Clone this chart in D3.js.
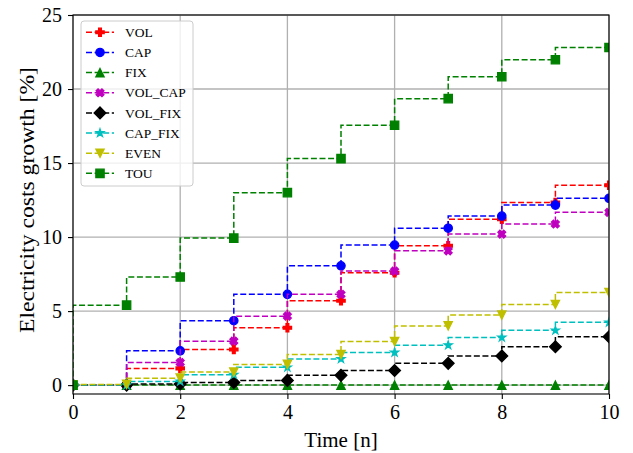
<!DOCTYPE html>
<html>
<head>
<meta charset="utf-8">
<script src="https://cdn.jsdelivr.net/npm/d3@7"></script>
<style>
  body { margin: 0; background: white; }
  text { font-family: "Liberation Serif", "Times New Roman", serif; fill: black; }
</style>
</head>
<body>
<div id="dataviz"></div>
<script>
"use strict"

// data
const times = [0, 1, 2, 3, 4, 5, 6, 7, 8, 9, 10];
const VOL      = [0, 0, 1.13, 2.41, 3.87, 5.7, 7.59, 9.41, 11.2, 12.34, 13.5];
const CAP      = [0, 0, 2.32, 4.35, 6.13, 8.06, 9.46, 10.6, 11.42, 12.16, 12.62];
const FIX      = [0, 0, 0, 0, 0, 0, 0, 0, 0, 0, 0];
const VOL_CAP  = [0, 0, 1.53, 2.97, 4.66, 6.13, 7.7, 9.07, 10.2, 10.88, 11.67];
const VOL_FIX  = [0, 0, 0.08, 0.18, 0.32, 0.66, 0.99, 1.47, 1.97, 2.59, 3.27];
const CAP_FIX  = [0, 0, 0.25, 0.7, 1.2, 1.77, 2.2, 2.7, 3.22, 3.7, 4.24];
const EVEN     = [0, 0.05, 0.47, 0.88, 1.4, 2.07, 2.95, 4.0, 4.73, 5.45, 6.26];
const TOU      = [0, 5.4, 7.3, 9.93, 13.0, 15.3, 17.55, 19.35, 20.83, 21.98, 22.8];

const seriesNames = ["VOL", "CAP", "FIX", "VOL_CAP", "VOL_FIX", "CAP_FIX", "EVEN", "TOU"];
const seriesValues = [VOL, CAP, FIX, VOL_CAP, VOL_FIX, CAP_FIX, EVEN, TOU];
const seriesColors = ["#ff0000", "#0000ff", "#008000", "#bf00bf", "#000000", "#00bfbf", "#bfbf00", "#008000"];
const seriesMarkers = ["P", "o", "^", "X", "D", "*", "v", "s"];

const xTicks = [0, 2, 4, 6, 8, 10];
const yTicks = [0, 5, 10, 15, 20, 25];

let W = 633, H = 453;
let plot = {left: 73, right: 609, top: 15, bottom: 394};

let svg = d3.select("#dataviz")
            .append("svg")
            .attr("width", W)
            .attr("height", H);

let x = d3.scaleLinear().domain([0, 10]).range([plot.left, plot.right]);
let y = d3.scaleLinear().domain([-0.6, 25]).range([plot.bottom, plot.top]);

svg.append("clipPath")
   .attr("id", "plotClip")
   .append("rect")
   .attr("x", plot.left)
   .attr("y", plot.top)
   .attr("width", plot.right - plot.left)
   .attr("height", plot.bottom - plot.top);

// grid
let grid = svg.append("g");
grid.selectAll(".gx").data(xTicks).enter()
    .append("line")
    .attr("x1", function(d) { return x(d) })
    .attr("x2", function(d) { return x(d) })
    .attr("y1", plot.top)
    .attr("y2", plot.bottom)
    .style("stroke", "#b0b0b0")
    .style("stroke-width", 1.3);
grid.selectAll(".gy").data(yTicks).enter()
    .append("line")
    .attr("y1", function(d) { return y(d) })
    .attr("y2", function(d) { return y(d) })
    .attr("x1", plot.left)
    .attr("x2", plot.right)
    .style("stroke", "#b0b0b0")
    .style("stroke-width", 1.3);

function markerPath(type, ms) {
  let h = ms / 2;
  let p = d3.path();
  if (type == "o") {
    p.arc(0, 0, h, 0, 2 * Math.PI);
    return p.toString();
  }
  let pts;
  if (type == "s") {
    pts = [[-h, -h], [h, -h], [h, h], [-h, h]];
  } else if (type == "D") {
    let r = ms * 0.707;
    pts = [[0, -r], [r, 0], [0, r], [-r, 0]];
  } else if (type == "^") {
    pts = [[0, -h], [h, h], [-h, h]];
  } else if (type == "v") {
    pts = [[0, h], [h, -h], [-h, -h]];
  } else if (type == "P" || type == "X") {
    let raw = [[-1,-3],[1,-3],[1,-1],[3,-1],[3,1],[1,1],[1,3],[-1,3],[-1,1],[-3,1],[-3,-1],[-1,-1]];
    let a = type == "X" ? Math.PI / 4 : 0;
    pts = raw.map(function(q) {
      let px = q[0] * ms / 6, py = q[1] * ms / 6;
      return [px * Math.cos(a) - py * Math.sin(a), px * Math.sin(a) + py * Math.cos(a)];
    });
  } else if (type == "*") {
    pts = [];
    for (let i = 0; i < 10; i++) {
      let r = i % 2 == 0 ? h : h * 0.381966;
      let ang = -Math.PI / 2 + i * Math.PI / 5;
      pts.push([r * Math.cos(ang), r * Math.sin(ang)]);
    }
  }
  p.moveTo(pts[0][0], pts[0][1]);
  for (let i = 1; i < pts.length; i++) p.lineTo(pts[i][0], pts[i][1]);
  p.closePath();
  return p.toString();
}

const ms = 8.3;

let stepLine = d3.line()
                 .x(function(d) { return x(d[0]) })
                 .y(function(d) { return y(d[1]) })
                 .curve(d3.curveStepBefore);

let plotArea = svg.append("g").attr("clip-path", "url(#plotClip)");

seriesNames.forEach(function(name, i) {
  let pts = times.map(function(t, j) { return [t, seriesValues[i][j]] });
  let g = plotArea.append("g");
  g.append("path")
   .attr("d", stepLine(pts))
   .style("fill", "none")
   .style("stroke", seriesColors[i])
   .style("stroke-width", 1.5)
   .style("stroke-dasharray", "6,2.6");
  g.selectAll("path.mk").data(pts).enter()
   .append("path")
   .attr("class", "mk")
   .attr("d", markerPath(seriesMarkers[i], ms))
   .attr("transform", function(d) { return "translate(" + x(d[0]) + "," + y(d[1]) + ")" })
   .style("fill", seriesColors[i])
   .style("stroke", seriesColors[i])
   .style("stroke-width", 1.3);
});

// axes
let xAxis = svg.append("g")
   .attr("transform", "translate(0," + plot.bottom + ")")
   .call(d3.axisBottom(x).tickValues(xTicks).tickSize(5).tickPadding(6).tickFormat(d3.format("d")));
let yAxis = svg.append("g")
   .attr("transform", "translate(" + plot.left + ",0)")
   .call(d3.axisLeft(y).tickValues(yTicks).tickSize(5).tickPadding(6).tickFormat(d3.format("d")));
[xAxis, yAxis].forEach(function(a) {
  a.select(".domain").remove();
  a.selectAll("text").style("font-size", "20px").style("font-family", "Liberation Serif");
  a.selectAll("line").style("stroke", "black").style("stroke-width", 1.1);
});

svg.append("rect")
   .attr("x", plot.left)
   .attr("y", plot.top)
   .attr("width", plot.right - plot.left)
   .attr("height", plot.bottom - plot.top)
   .style("fill", "none")
   .style("stroke", "black")
   .style("stroke-width", 1.1);

svg.append("text")
   .attr("x", (plot.left + plot.right) / 2)
   .attr("y", 447)
   .style("text-anchor", "middle")
   .style("font-size", "21px")
   .text("Time [n]");

svg.append("text")
   .attr("transform", "translate(34," + 200 + ") rotate(-90)")
   .style("text-anchor", "middle")
   .style("font-size", "21px")
   .attr("textLength", 266)
   .attr("lengthAdjust", "spacingAndGlyphs")
   .text("Electricity costs growth [%]");

// legend
let legend = svg.append("g");
legend.append("rect")
   .attr("x", 81)
   .attr("y", 21)
   .attr("width", 112)
   .attr("height", 165)
   .attr("rx", 3)
   .style("fill", "white")
   .style("fill-opacity", 0.8)
   .style("stroke", "#cccccc")
   .style("stroke-width", 1);

seriesNames.forEach(function(name, i) {
  let ly = 32.3 + i * 20.15;
  let item = legend.append("g");
  item.append("line")
      .attr("x1", 86).attr("x2", 114)
      .attr("y1", ly).attr("y2", ly)
      .style("stroke", seriesColors[i])
      .style("stroke-width", 1.5)
      .style("stroke-dasharray", "6,2.6");
  item.append("path")
      .attr("d", markerPath(seriesMarkers[i], ms))
      .attr("transform", "translate(100," + ly + ")")
      .style("fill", seriesColors[i])
      .style("stroke", seriesColors[i])
      .style("stroke-width", 1.3);
  item.append("text")
      .attr("x", 125)
      .attr("y", ly)
      .attr("dy", "0.35em")
      .style("font-size", "13.5px")
      .text(name);
});
</script>
</body>
</html>
